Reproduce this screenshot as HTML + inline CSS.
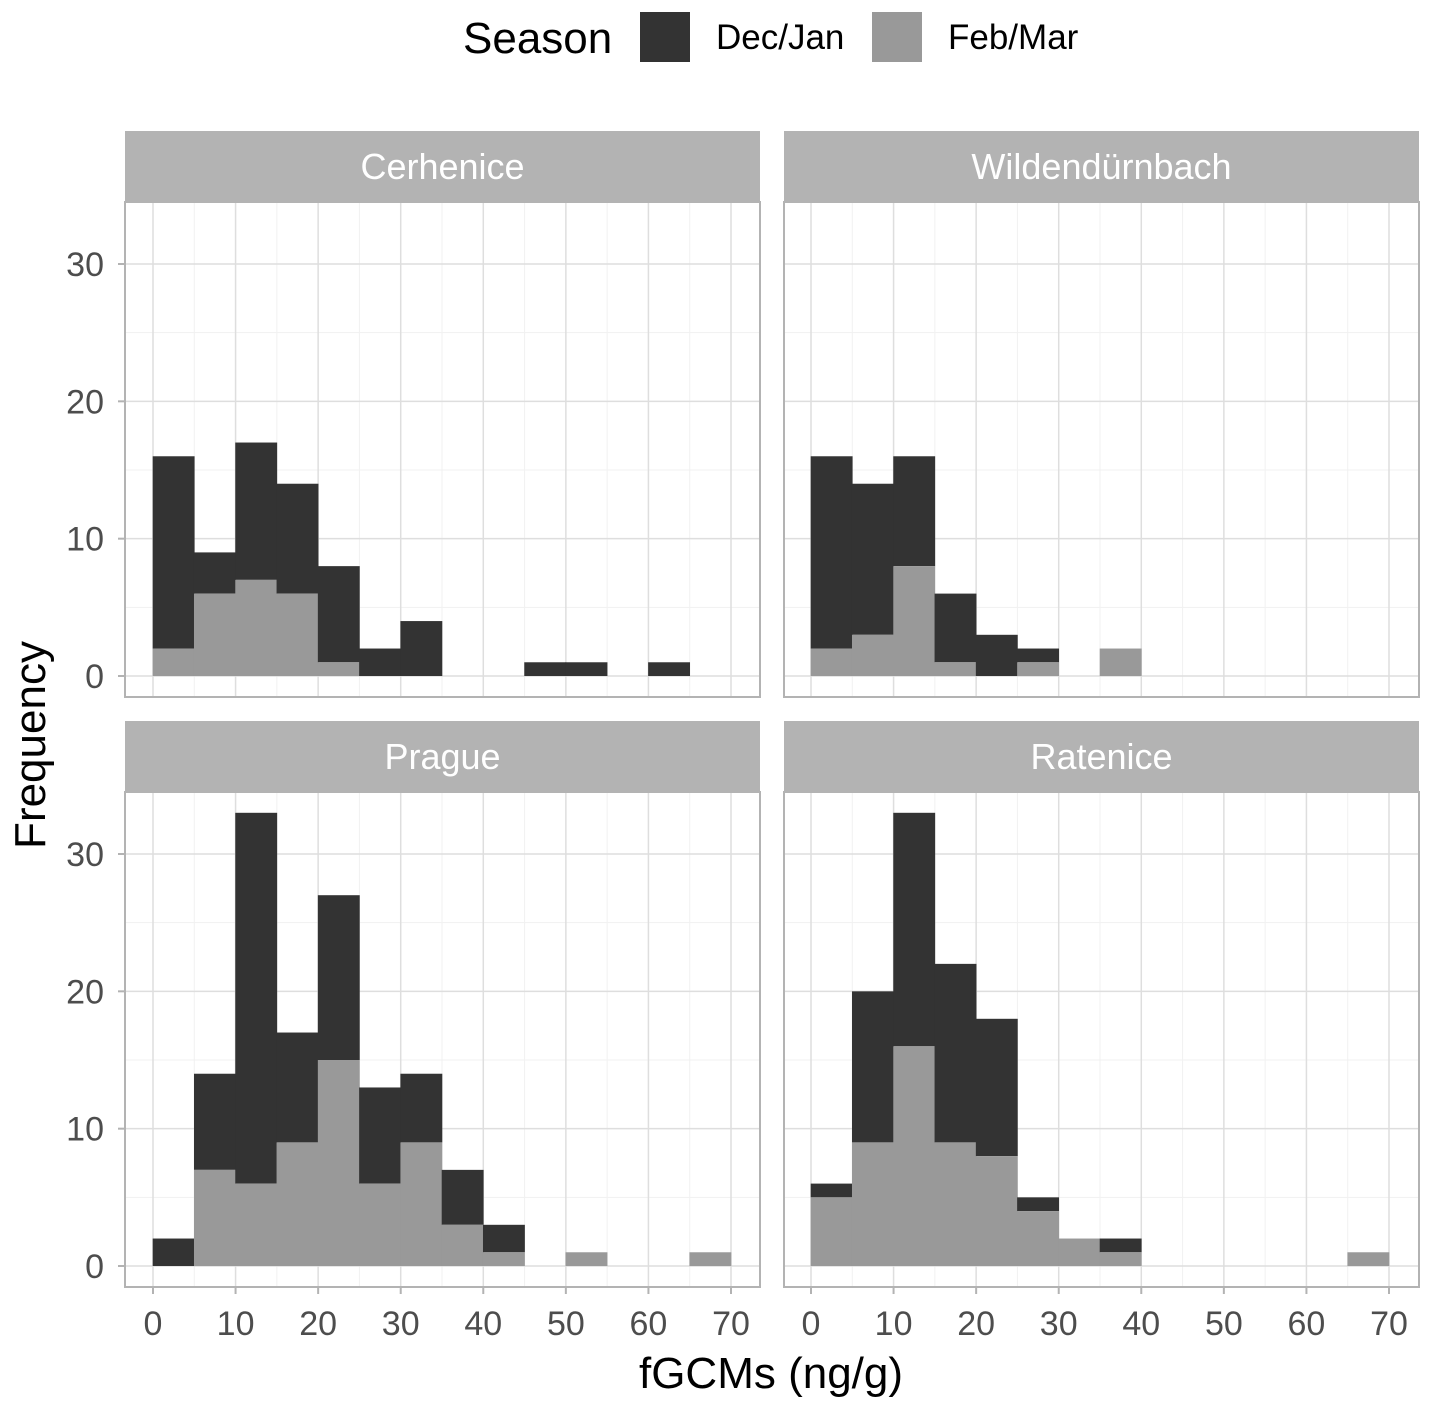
<!DOCTYPE html>
<html><head><meta charset="utf-8"><style>body{margin:0;background:#fff}svg{display:block;font-family:"Liberation Sans",Arial,sans-serif}</style></head>
<body>
<svg id="c" width="1429" height="1407" xmlns="http://www.w3.org/2000/svg"></svg>
<script>
const panelNames=["Cerhenice","Wildendürnbach","Prague","Ratenice"];
const binStarts=[0,5,10,15,20,25,30,35,40,45,50,55,60,65];
const totalCerhenice=[16,9,17,14,8,2,4,0,0,1,1,0,1,0];
const febCerhenice=[2,6,7,6,1,0,0,0,0,0,0,0,0,0];
const totalWilden=[16,14,16,6,3,2,0,2,0,0,0,0,0,0];
const febWilden=[2,3,8,1,0,1,0,2,0,0,0,0,0,0];
const totalPrague=[2,14,33,17,27,13,14,7,3,0,1,0,0,1];
const febPrague=[0,7,6,9,15,6,9,3,1,0,1,0,0,1];
const totalRatenice=[6,20,33,22,18,5,2,2,0,0,0,0,0,1];
const febRatenice=[5,9,16,9,8,4,2,1,0,0,0,0,0,1];
const xTicks=[0,10,20,30,40,50,60,70];
const yTicks=[0,10,20,30];

const NS="http://www.w3.org/2000/svg",svg=document.getElementById('c');
function el(t,a,p){const e=document.createElementNS(NS,t);for(const k in a)e.setAttribute(k,a[k]);(p||svg).appendChild(e);return e;}
const totals=[totalCerhenice,totalWilden,totalPrague,totalRatenice];
const febs=[febCerhenice,febWilden,febPrague,febRatenice];
const cols=[{x0:125,x1:760,z:153},{x0:784,x1:1419,z:811}];
const rows=[{s:131,t:202,b:697,z:676},{s:721,t:792,b:1287,z:1266}];
const xs=(578/70), ys=(412/30);
panelNames.forEach((nm,i)=>{
  const c=cols[i%2],r=rows[Math.floor(i/2)];
  const X=v=>c.z+v*xs, Y=v=>r.z-v*ys;
  const g=el('g',{});
  
  
  el('rect',{x:c.x0,y:r.t,width:c.x1-c.x0,height:r.b-r.t,fill:'#fff'},g);
  for(let v=5;v<=75;v+=10){const x=X(v);if(x<c.x1)el('line',{x1:x,x2:x,y1:r.t,y2:r.b,stroke:'#f1f1f1','stroke-width':1},g);}
  for(let v=5;v<=35;v+=10){el('line',{x1:c.x0,x2:c.x1,y1:Y(v),y2:Y(v),stroke:'#f1f1f1','stroke-width':1},g);}
  xTicks.forEach(v=>el('line',{x1:X(v),x2:X(v),y1:r.t,y2:r.b,stroke:'#dedede','stroke-width':1.5},g));
  yTicks.forEach(v=>el('line',{x1:c.x0,x2:c.x1,y1:Y(v),y2:Y(v),stroke:'#dedede','stroke-width':1.5},g));
  binStarts.forEach((b,j)=>{
    const t=totals[i][j],f=febs[i][j];
    if(t-f>0){const d=el('rect',{x:X(b)-0.3,y:Y(t),width:5*xs+0.6,height:(t-f)*ys,fill:'#333333'},g);
      }
    if(f>0){const d=el('rect',{x:X(b)-0.3,y:Y(f),width:5*xs+0.6,height:f*ys,fill:'#999999'},g);
      }
  });
  el('rect',{x:c.x0,y:r.t,width:c.x1-c.x0,height:r.b-r.t,fill:'none',stroke:'#b3b3b3','stroke-width':2},g);
  const s=el('rect',{x:c.x0,y:r.s,width:c.x1-c.x0,height:r.t-r.s,fill:'#b3b3b3'},g);
  
  const st=el('text',{x:(c.x0+c.x1)/2,y:r.s+48,'text-anchor':'middle','font-size':36,fill:'#fff'},g);st.textContent=nm;
  
  if(i%2===0) yTicks.forEach(v=>{el('line',{x1:118,x2:125,y1:Y(v),y2:Y(v),stroke:'#b3b3b3','stroke-width':2},g);
    const t=el('text',{x:104,y:Y(v)+12,'text-anchor':'end','font-size':34,fill:'#4d4d4d'},g);t.textContent=v;
    });
  if(i>=2) xTicks.forEach(v=>{el('line',{x1:X(v),x2:X(v),y1:r.b,y2:r.b+7,stroke:'#b3b3b3','stroke-width':2},g);
    const t=el('text',{x:X(v),y:r.b+48,'text-anchor':'middle','font-size':34,fill:'#4d4d4d'},g);t.textContent=v;
    });
});
let t=el('text',{x:771,y:1388,'text-anchor':'middle','font-size':44,fill:'#000'});t.textContent='fGCMs (ng/g)';

t=el('text',{x:45,y:745,'text-anchor':'middle','font-size':44,fill:'#000',transform:'rotate(-90 45 745)'});t.textContent='Frequency';

t=el('text',{x:463,y:53,'font-size':44,fill:'#000'});t.textContent='Season';

let k=el('rect',{x:640,y:12,width:50,height:50,fill:'#333333'});
t=el('text',{x:716,y:49,'font-size':35,fill:'#000'});t.textContent='Dec/Jan';
k=el('rect',{x:872,y:12,width:50,height:50,fill:'#999999'});
t=el('text',{x:948,y:49,'font-size':35,fill:'#000'});t.textContent='Feb/Mar';
</script>
</body></html>
